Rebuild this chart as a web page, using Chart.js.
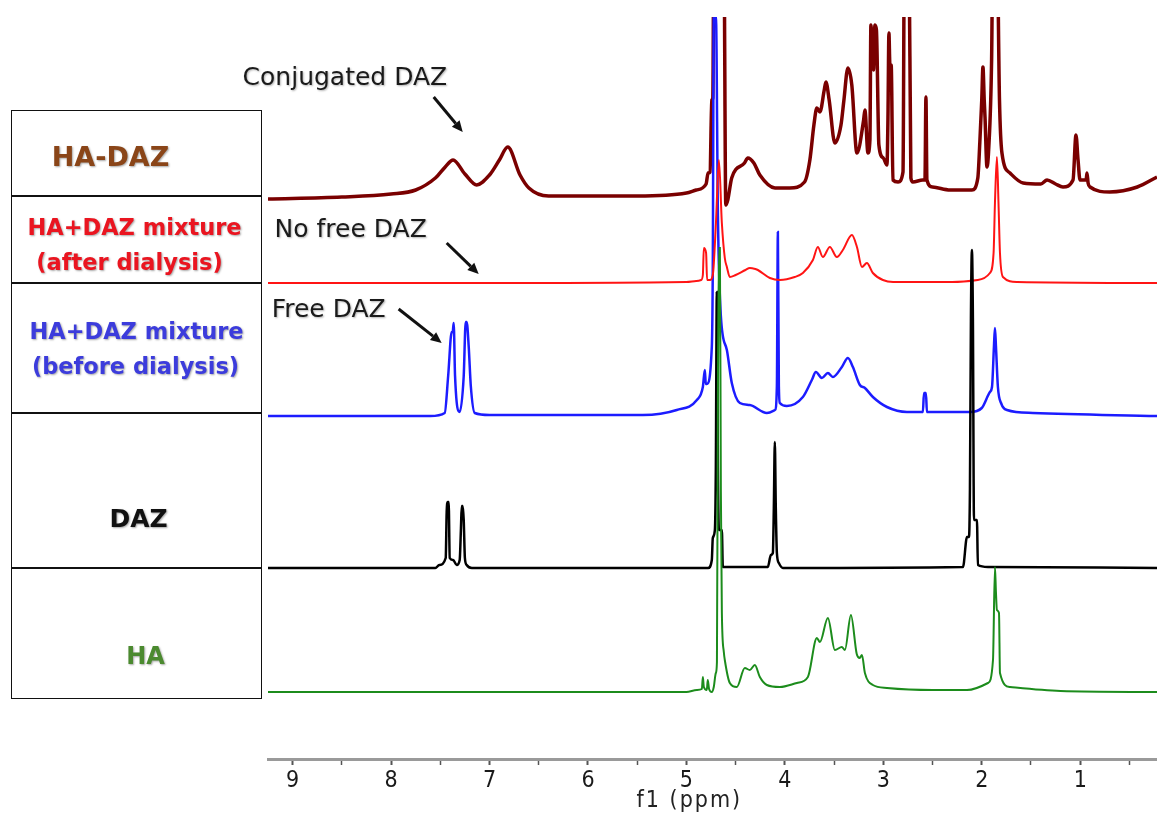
<!DOCTYPE html>
<html>
<head>
<meta charset="utf-8">
<script src="https://cdn.jsdelivr.net/npm/chart.js@4"></script>
<style>
html,body{margin:0;padding:0;background:#fff;}
#wrap{position:relative;width:1157px;height:814px;overflow:hidden;}
#c{position:absolute;left:0;top:0;}
.box{position:absolute;left:11px;width:251px;border:1.5px solid #111;box-sizing:border-box;}
.lab{position:absolute;left:0;width:100%;text-align:center;font-family:"DejaVu Sans",sans-serif;font-weight:bold;
  white-space:nowrap;text-shadow:1px 1px 2px rgba(0,0,0,.35);transform:translateY(-50%);}
</style>
</head>
<body>
<div id="wrap">
  <canvas id="c" width="1157" height="814"></canvas>
  <div id="table"></div>
</div>
<script>
// ppm axis (reversed) and stacked 1H NMR traces, heights
const xMin = 0.22, xMax = 9.25;
const tickStep = 0.5;

const haDazPpm = [9.25,8.50,8.00,7.75,7.55,7.45,7.37,7.25,7.13,7.00,6.90,6.815,6.69,6.60,6.40,6.00,5.50,5.00,4.90,4.80,4.78,4.76,4.742,4.732,4.72,4.62,4.60,4.58,4.54,4.41,4.376,4.315,4.254,4.10,3.95,3.80,3.746,3.705,3.675,3.644,3.60,3.583,3.55,3.492,3.43,3.40,3.36,3.32,3.268,3.20,3.187,3.156,3.136,3.126,3.116,3.10,3.085,3.07,3.045,3.00,2.963,2.953,2.943,2.933,2.92,2.902,2.85,2.80,2.785,2.74,2.72,2.70,2.60,2.577,2.567,2.557,2.50,2.32,2.10,2.04,2.02,2.00,1.988,1.975,1.967,1.947,1.93,1.90,1.886,1.846,1.82,1.795,1.713,1.58,1.40,1.337,1.25,1.175,1.073,1.043,1.022,1.002,0.94,0.931,0.92,0.90,0.70,0.42,0.22];
const haDazInt = [-4,-2,1,5,17,28,35,21,10,20,35,48,20,7,-1,-1,-1,2,5,11,22,23,95,97,260,260,-10,-5,17,32,37,32,20,7,7,13,35,70,87,83,105,113,95,52,70,95,127,110,42,75,85,42,55,170,155,125,170,165,50,37,30,75,162,130,130,15,13,23,260,260,17,13,15,15,98,15,8,5,5,17,52,95,128,95,78,28,45,135,260,260,95,42,22,12,11,15,11,8,15,60,35,15,15,22,12,8,3,8,18];

const afterPpm = [9.25,7.00,5.00,4.90,4.85,4.833,4.823,4.80,4.79,4.76,4.732,4.70,4.67,4.64,4.61,4.589,4.559,4.50,4.40,4.356,4.30,4.274,4.152,4.05,3.90,3.817,3.715,3.665,3.614,3.543,3.472,3.411,3.319,3.268,3.217,3.167,3.106,3.004,2.90,2.30,2.04,1.917,1.88,1.866,1.846,1.83,1.815,1.785,1.64,0.22];
const afterInt = [0,0,1,2,3,8,35,30,3,3,8,60,123,60,25,16,6,8,13,15,14,13,5,3,6,10,23,36,26,36,26,33,48,36,16,20,10,3,1,1,3,10,30,80,126,80,30,6,1,0];

const beforePpm = [9.25,7.60,7.455,7.42,7.384,7.374,7.364,7.35,7.303,7.262,7.242,7.232,7.211,7.19,7.15,7.00,5.443,5.098,4.894,4.833,4.813,4.803,4.793,4.742,4.732,4.722,4.70,4.68,4.65,4.589,4.539,4.457,4.356,4.183,4.10,4.081,4.071,4.061,4.051,3.98,3.817,3.726,3.685,3.624,3.563,3.512,3.421,3.36,3.309,3.238,3.187,3.106,2.963,2.76,2.598,2.587,2.567,2.557,2.12,2.00,1.917,1.896,1.876,1.866,1.856,1.836,1.80,1.744,1.48,0.22];
const beforeInt = [0,0,3,40,84,84,93,40,4,40,94,94,69,30,3,1,1,6,16,29,46,32,32,69,150,400,400,200,100,66,33,13,11,3,6,30,184,30,13,10,19,36,44,38,43,39,49,58,49,31,28,19,9,4,4,23,23,4,4,8,24,29,70,88,70,29,12,6,3,0];

const dazPpm = [9.25,7.55,7.51,7.445,7.435,7.425,7.415,7.404,7.37,7.333,7.303,7.29,7.282,7.272,7.262,7.25,7.232,7.18,4.78,4.742,4.732,4.711,4.701,4.691,4.68,4.67,4.64,4.63,4.173,4.142,4.122,4.112,4.102,4.092,4.081,4.061,4.02,2.191,2.15,2.13,2.12,2.11,2.10,2.09,2.079,2.049,2.039,1.937,0.22];
const dazInt = [0,0,3,10,56,66,66,10,8,3,8,40,62,62,48,10,3,0,0,8,30,38,100,276,100,38,38,1,1,13,15,60,126,60,15,5,0,1,31,31,80,250,318,250,48,48,3,1,0];

const haPpm = [9.25,5.00,4.894,4.843,4.833,4.823,4.793,4.783,4.77,4.742,4.722,4.701,4.69,4.68,4.67,4.66,4.65,4.64,4.62,4.61,4.559,4.488,4.407,4.356,4.305,4.254,4.183,4.051,3.878,3.766,3.675,3.644,3.563,3.492,3.421,3.39,3.329,3.27,3.24,3.217,3.187,3.106,2.963,2.50,2.15,1.937,1.886,1.866,1.856,1.846,1.825,1.815,1.713,1.20,0.22];
const haInt = [0,0,2,3,15,5,2,12,3,0,5,19,30,300,444,444,200,80,40,32,9,5,24,22,27,15,7,5,9,15,54,50,74,42,45,42,77,38,34,37,19,7,4,2,2,9,32,125,100,82,79,19,5,1,0];

// stacking offsets of each trace (same units as the intensities)
const traceNames = ['HA-DAZ','HA+DAZ mixture (after dialysis)','HA+DAZ mixture (before dialysis)','DAZ','HA'];
const tracePpm = [haDazPpm, afterPpm, beforePpm, dazPpm, haPpm];
const traceInt = [haDazInt, afterInt, beforeInt, dazInt, haInt];
const traceOffset = [564, 476, 343, 191, 67];
const traceColor = ['#7a0000','#ff1414','#1c1cff','#000000','#1c8c1c'];
const traceWidth = [3.5, 2, 2.5, 2.5, 2];
const traceOrder = [5, 3, 4, 2, 1];

// annotations (anchored in ppm / intensity units)
const annoLabels = ['Conjugated DAZ', 'No free DAZ', 'Free DAZ'];
const annoLabelPpm = [9.508, 9.183, 9.213];
const annoLabelVal = [681, 529, 449];
const arrowTailPpm = [7.567, 7.435, 7.923];
const arrowTailVal = [662, 516, 450];
const arrowTipPpm = [7.272, 7.110, 7.486];
const arrowTipVal = [627, 485, 416];

// left legend table
const rowTops = [110, 195, 282, 412, 567, 697];
const rowLines = [['HA-DAZ'], ['HA+DAZ mixture','(after dialysis)'], ['HA+DAZ mixture','(before dialysis)'], ['DAZ'], ['HA']];
const rowColor = ['#8a4518', '#ea1520', '#3c3cdc', '#111111', '#4b8a2f'];
const rowFont = [27, 22.5, 22.5, 25, 24];
const rowLineY = [[45], [31, 66], [48, 83], [105], [88]];
const rowShift = [-26, [-2, -7], [0, -1], 2, 9];

const table = document.getElementById('table');
rowLines.forEach((lines, r) => {
  const box = document.createElement('div');
  box.className = 'box';
  box.style.top = rowTops[r] + 'px';
  box.style.height = (rowTops[r+1] - rowTops[r] + 1.5) + 'px';
  lines.forEach((t, k) => {
    const d = document.createElement('div');
    d.className = 'lab';
    d.textContent = t;
    d.style.color = rowColor[r];
    d.style.fontSize = rowFont[r] + 'px';
    d.style.top = rowLineY[r][k] + 'px';
    const sh = Array.isArray(rowShift[r]) ? rowShift[r][k] : rowShift[r];
    d.style.left = sh + 'px';
    box.appendChild(d);
  });
  table.appendChild(box);
});

const datasets = traceNames.map((name, i) => ({
  label: name,
  data: tracePpm[i].map((p, j) => ({x: p, y: traceOffset[i] + traceInt[i][j]})),
  borderColor: traceColor[i],
  borderWidth: traceWidth[i],
  pointRadius: 0,
  fill: false,
  cubicInterpolationMode: 'monotone',
  order: traceOrder[i]
}));

const overlay = {
  id: 'overlay',
  afterDraw(chart) {
    const {ctx, scales: {x, y}} = chart;
    ctx.save();
    ctx.font = '25px "DejaVu Sans", sans-serif';
    ctx.textBaseline = 'middle';
    ctx.textAlign = 'left';
    annoLabels.forEach((t, i) => {
      ctx.shadowColor = 'rgba(0,0,0,0.3)';
      ctx.shadowBlur = 2; ctx.shadowOffsetX = 1; ctx.shadowOffsetY = 1;
      ctx.fillStyle = '#1a1a1a';
      ctx.fillText(t, x.getPixelForValue(annoLabelPpm[i]), y.getPixelForValue(annoLabelVal[i]));
      ctx.shadowColor = 'transparent';
      const x0 = x.getPixelForValue(arrowTailPpm[i]), y0 = y.getPixelForValue(arrowTailVal[i]);
      const x1 = x.getPixelForValue(arrowTipPpm[i]), y1 = y.getPixelForValue(arrowTipVal[i]);
      const a = Math.atan2(y1 - y0, x1 - x0), hl = 11, hw = 5;
      ctx.strokeStyle = '#111'; ctx.fillStyle = '#111'; ctx.lineWidth = 3;
      ctx.beginPath();
      ctx.moveTo(x0, y0);
      ctx.lineTo(x1 - hl * Math.cos(a), y1 - hl * Math.sin(a));
      ctx.stroke();
      ctx.beginPath();
      ctx.moveTo(x1, y1);
      ctx.lineTo(x1 - hl * Math.cos(a) + hw * Math.sin(a), y1 - hl * Math.sin(a) - hw * Math.cos(a));
      ctx.lineTo(x1 - hl * Math.cos(a) - hw * Math.sin(a), y1 - hl * Math.sin(a) + hw * Math.cos(a));
      ctx.closePath();
      ctx.fill();
    });
    // axis title
    ctx.font = '23px "DejaVu Sans Condensed", "DejaVu Sans", sans-serif';
    if ('letterSpacing' in ctx) ctx.letterSpacing = '2px';
    ctx.fillStyle = '#222';
    ctx.textAlign = 'center';
    ctx.fillText('f1 (ppm)', x.getPixelForValue(4.97), chart.chartArea.bottom + 42);
    ctx.restore();
  }
};

new Chart(document.getElementById('c'), {
  type: 'line',
  data: {datasets},
  options: {
    responsive: false,
    animation: false,
    events: [],
    layout: {padding: {left: 268, right: 0, top: 17, bottom: 0}},
    plugins: {legend: {display: false}, tooltip: {enabled: false}},
    scales: {
      x: {
        type: 'linear',
        reverse: true,
        min: xMin,
        max: xMax,
        afterFit(scale) { scale.height = 55; },
        border: {display: true, color: '#9a9a9a', width: 3},
        grid: {drawOnChartArea: false, drawTicks: true, tickLength: 6, tickColor: '#555',
               tickWidth: c => Number.isInteger(c.tick && c.tick.value) ? 2 : 1.5},
        ticks: {
          stepSize: tickStep,
          includeBounds: false,
          autoSkip: false,
          maxRotation: 0,
          padding: 2,
          color: '#1a1a1a',
          font: {family: '"DejaVu Sans Condensed", "DejaVu Sans", sans-serif', size: 23},
          callback: v => Number.isInteger(v) ? String(v) : ''
        }
      },
      y: {display: false, min: 0, max: 742}
    }
  },
  plugins: [overlay]
});
</script>
</body>
</html>
